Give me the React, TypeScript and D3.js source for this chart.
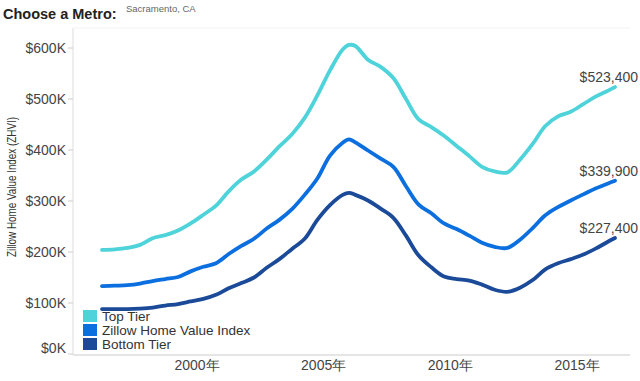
import React from "react";
import * as d3 from "d3";

const dates = [
  1996.25, 1996.75, 1997.25, 1997.75, 1998.25, 1998.75, 1999.25, 1999.75,
  2000.25, 2000.75, 2001.25, 2001.75, 2002.25, 2002.75, 2003.25, 2003.75,
  2004.25, 2004.75, 2005.25, 2005.75, 2006.0, 2006.25, 2006.75, 2007.25,
  2007.75, 2008.25, 2008.75, 2009.25, 2009.75, 2010.25, 2010.75, 2011.25,
  2011.75, 2012.25, 2012.75, 2013.25, 2013.75, 2014.25, 2014.75, 2015.25,
  2015.75, 2016.25, 2016.5,
];

const topTier = [
  204, 205, 208, 214, 227, 233, 242, 256, 273, 291, 319, 342, 358, 381, 407,
  431, 463, 507, 556, 597, 606, 604, 577, 563, 541, 500, 460, 445, 428, 408,
  388, 367, 358, 356, 381, 412, 447, 466, 475, 490, 505, 517, 523.4,
];

const zhvi = [
  133, 134, 135, 138, 143, 147, 151, 162, 171, 178, 196, 212, 226, 246, 263,
  284, 312, 344, 389, 414, 421, 415, 399, 383, 367, 329, 293, 276, 256, 245,
  232, 218, 210, 208, 224, 247, 272, 288, 301, 313, 325, 335, 339.9,
];

const bottomTier = [
  88, 88, 88, 89, 91, 95, 98, 103, 108, 116, 129, 139, 150, 169, 186, 206,
  226, 263, 292, 312, 316, 312, 301, 285, 267, 232, 193, 170, 152, 147, 144,
  136, 126, 122, 130, 145, 166, 178, 186, 195, 207, 221, 227.4,
];

const seriesNames = ["Top Tier", "Zillow Home Value Index", "Bottom Tier"];
const seriesColors = ["#4ed3da", "#0c6fdf", "#1b4a98"];
const endLabels = ["$523,400", "$339,900", "$227,400"];

const yTicks = [0, 100, 200, 300, 400, 500, 600];
const yTickLabels = ["$0K", "$100K", "$200K", "$300K", "$400K", "$500K", "$600K"];
const xTicks = [2000, 2005, 2010, 2015];
const xTickLabels = ["2000年", "2005年", "2010年", "2015年"];

export default function App() {
  const W = 640;
  const H = 381;
  const x = d3.scaleLinear().domain([2000, 2015]).range([197, 577]);
  const y = d3.scaleLinear().domain([0, 600]).range([354, 48]);
  const allSeries = [topTier, zhvi, bottomTier];
  const line = d3
    .line<number>()
    .x((_, i) => x(dates[i]))
    .y((v) => y(v))
    .curve(d3.curveCatmullRom.alpha(0.5));

  const font = "Liberation Sans, Arial, sans-serif";
  const lastIdx = dates.length - 1;

  return (
    <svg
      width={W}
      height={H}
      style={{ position: "absolute", left: 0, top: 0, background: "#fff" }}
      fontFamily={font}
    >
      <text x={3} y={19} fontSize={14.5} fontWeight="bold" fill="#222">
        Choose a Metro:
      </text>
      <text x={126} y={12} fontSize={9.5} fill="#666">
        Sacramento, CA
      </text>

      {/* axes frame */}
      <line x1={73} x2={73} y1={28} y2={355} stroke="#ddd" strokeWidth={1} />
      <line x1={73} x2={630} y1={28} y2={28} stroke="#f2f2f2" strokeWidth={1} />
      <line x1={73} x2={630} y1={355} y2={355} stroke="#ddd" strokeWidth={1.5} />

      {yTicks.map((t, i) => (
        <g key={t}>
          <line x1={68} x2={73} y1={y(t)} y2={y(t)} stroke="#ccc" />
          <text
            x={66}
            y={i === 0 ? y(t) - 1 : y(t) + 5}
            fontSize={14}
            textAnchor="end"
            fill="#444"
          >
            {yTickLabels[i]}
          </text>
        </g>
      ))}

      <text
        transform={`translate(16,187) rotate(-90)`}
        fontSize={12.5}
        fontFamily="Liberation Sans Narrow, Arial Narrow, sans-serif"
        textAnchor="middle"
        fill="#333"
        textLength={140}
        lengthAdjust="spacingAndGlyphs"
      >
        Zillow Home Value Index (ZHVI)
      </text>

      {xTicks.map((t, i) => (
        <text key={t} x={x(t)} y={370} fontSize={14} textAnchor="middle" fill="#444">
          {xTickLabels[i]}
        </text>
      ))}

      {allSeries.map((s, k) => (
        <path
          key={k}
          d={line(s) || ""}
          fill="none"
          stroke={seriesColors[k]}
          strokeWidth={3.8}
          strokeLinecap="round"
          strokeLinejoin="round"
        />
      ))}

      {allSeries.map((s, k) => (
        <text
          key={k}
          x={638}
          y={y(s[lastIdx]) - 5}
          fontSize={14}
          textAnchor="end"
          fill="#444"
        >
          {endLabels[k]}
        </text>
      ))}

      {seriesNames.map((n, k) => (
        <g key={n}>
          <rect x={83} y={310 + k * 14} width={14} height={12} fill={seriesColors[k]} />
          <text x={102} y={321 + k * 14} fontSize={13.5} fill="#333">
            {n}
          </text>
        </g>
      ))}
    </svg>
  );
}
